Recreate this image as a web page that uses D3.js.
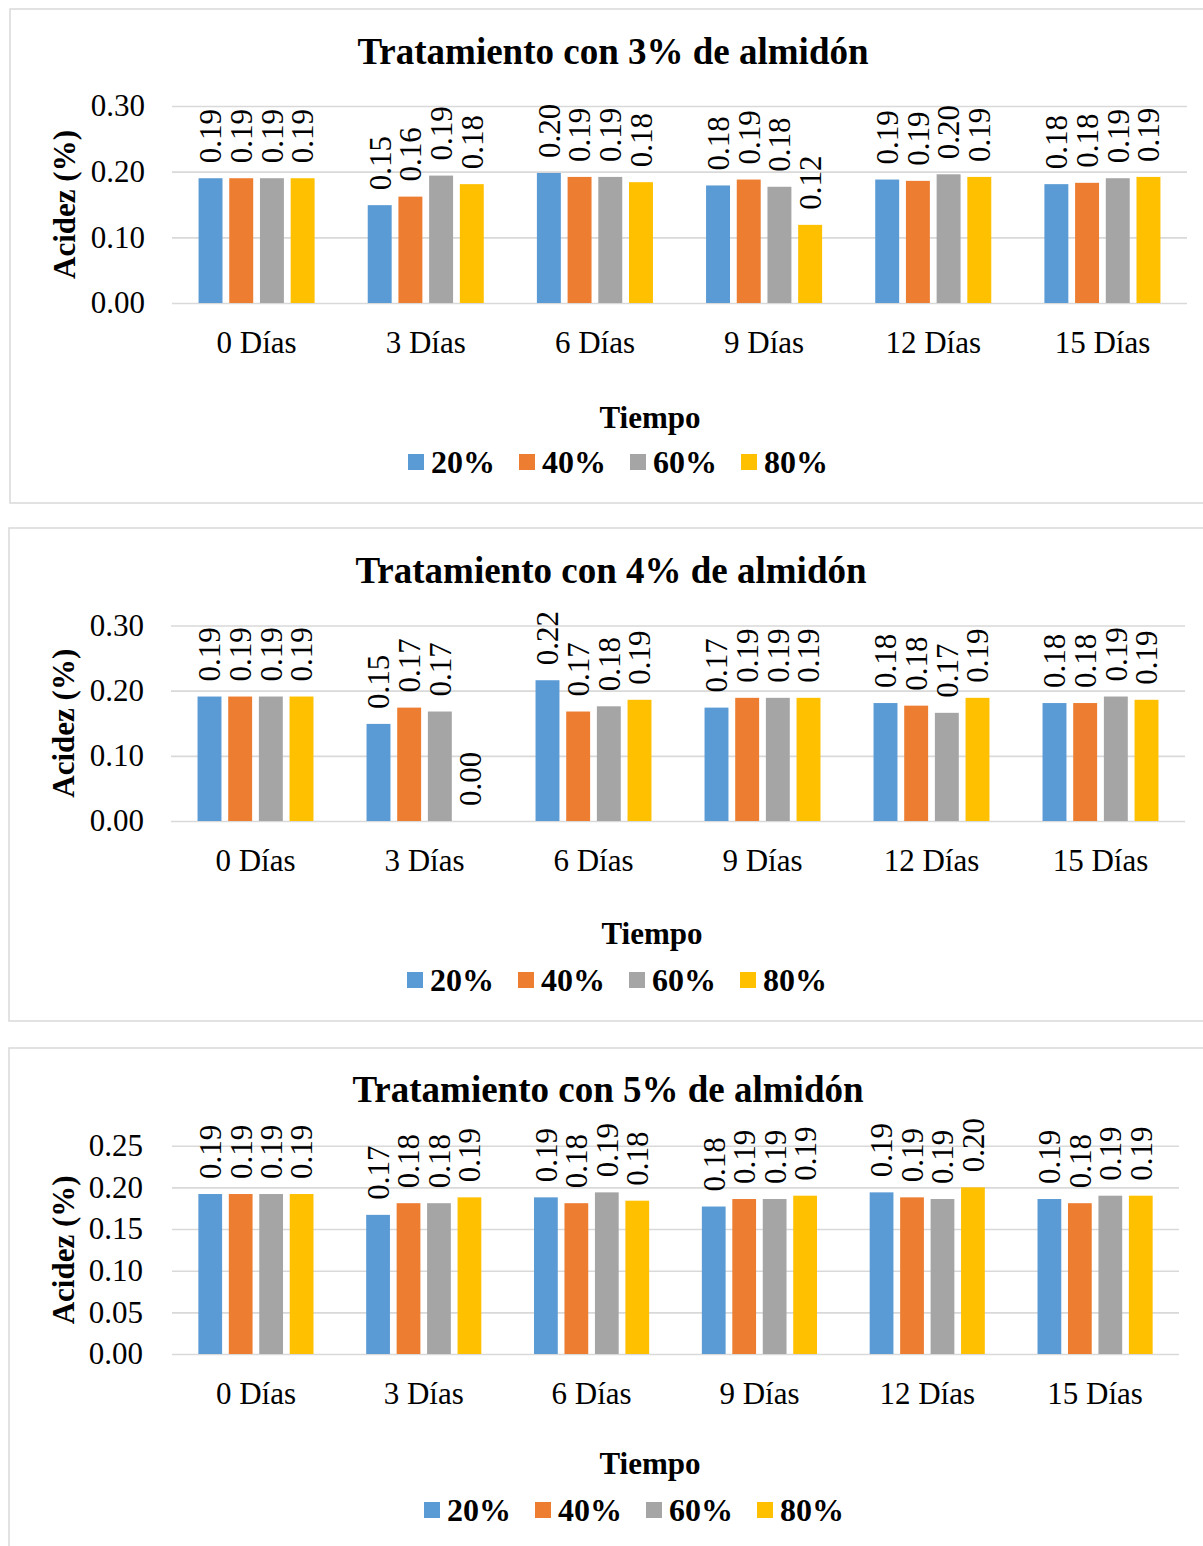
<!DOCTYPE html>
<html lang="es">
<head>
<meta charset="utf-8">
<title>Acidez (%) – tratamientos con almidón</title>
<script src="https://cdn.jsdelivr.net/npm/d3@7"></script>
<style>
  html, body { margin: 0; padding: 0; background: #ffffff; }
  svg { display: block; }
</style>
</head>
<body>
<svg id="chart" width="1203" height="1546"></svg>
<script>
// Categories (time) and series (concentration)
const categories = ["0 Días", "3 Días", "6 Días", "9 Días", "12 Días", "15 Días"];
const seriesNames = ["20%", "40%", "60%", "80%"];

// Acidity (%) per series, one value per day — 3% starch
const starch3_20 = [0.190, 0.149, 0.198, 0.179, 0.188, 0.181];
const starch3_40 = [0.190, 0.162, 0.192, 0.188, 0.186, 0.183];
const starch3_60 = [0.190, 0.194, 0.192, 0.177, 0.196, 0.190];
const starch3_80 = [0.190, 0.181, 0.184, 0.119, 0.192, 0.192];

// 4% starch
const starch4_20 = [0.191, 0.149, 0.216, 0.174, 0.181, 0.181];
const starch4_40 = [0.191, 0.174, 0.168, 0.189, 0.177, 0.181];
const starch4_60 = [0.191, 0.168, 0.176, 0.189, 0.166, 0.191];
const starch4_80 = [0.191, 0.000, 0.186, 0.189, 0.189, 0.186];

// 5% starch
const starch5_20 = [0.192, 0.167, 0.188, 0.177, 0.194, 0.186];
const starch5_40 = [0.192, 0.181, 0.181, 0.186, 0.188, 0.181];
const starch5_60 = [0.192, 0.181, 0.194, 0.186, 0.186, 0.190];
const starch5_80 = [0.192, 0.188, 0.184, 0.190, 0.200, 0.190];

// Axis ticks
const ticks3 = [0.00, 0.10, 0.20, 0.30];
const ticks4 = [0.00, 0.10, 0.20, 0.30];
const ticks5 = [0.00, 0.05, 0.10, 0.15, 0.20, 0.25];

const colors = ["#5B9BD5", "#ED7D31", "#A5A5A5", "#FFC000"];
const serif = "'Liberation Serif', 'Times New Roman', Times, serif";
const gridColor = "#D9D9D9";

const svg = d3.select("#chart");
svg.append("rect").attr("width", 1203).attr("height", 1546).attr("fill", "#ffffff");

function drawPanel(cfg) {
  const g = svg.append("g");

  // Frame
  g.append("rect")
    .attr("x", cfg.box[0]).attr("y", cfg.box[1])
    .attr("width", cfg.box[2]).attr("height", cfg.box[3])
    .attr("fill", "#ffffff")
    .attr("stroke", gridColor).attr("stroke-width", 1.5);

  const series = seriesNames.map((name, i) => ({ name, values: cfg.values[i], color: colors[i] }));

  const x0 = d3.scaleBand().domain(categories)
    .range([cfg.left, cfg.right]).paddingInner(0.314).paddingOuter(0.157);
  const x1 = d3.scaleBand().domain(seriesNames)
    .range([0, x0.bandwidth()]).paddingInner(0.22);
  const y = d3.scaleLinear().domain([0, d3.max(cfg.ticks)]).range([cfg.bottom, cfg.top]);

  // Y axis with gridlines
  const yAxis = g.append("g")
    .attr("transform", `translate(${cfg.left},0)`)
    .call(d3.axisLeft(y).tickValues(cfg.ticks).tickFormat(d3.format(".2f"))
      .tickSize(-(cfg.right - cfg.left)).tickPadding(cfg.tickPad));
  yAxis.select(".domain").remove();
  yAxis.selectAll(".tick line").attr("stroke", gridColor).attr("stroke-width", 1.6);
  yAxis.selectAll(".tick text")
    .attr("font-family", serif).attr("font-size", 31).attr("fill", "#000");

  // X axis labels
  const xAxis = g.append("g")
    .attr("transform", `translate(0,${cfg.bottom})`)
    .call(d3.axisBottom(x0).tickSize(0).tickPadding(28));
  xAxis.select(".domain").remove();
  xAxis.selectAll(".tick text")
    .attr("font-family", serif).attr("font-size", 31).attr("fill", "#000");

  // Bars
  const groups = g.append("g").selectAll("g")
    .data(series).join("g").attr("fill", d => d.color);

  groups.selectAll("rect")
    .data(d => d.values.map((v, i) => ({ cat: categories[i], name: d.name, v })))
    .join("rect")
    .attr("x", d => x0(d.cat) + x1(d.name))
    .attr("y", d => y(d.v))
    .attr("width", x1.bandwidth())
    .attr("height", d => y(0) - y(d.v));

  // Value labels (rotated)
  groups.selectAll("text")
    .data(d => d.values.map((v, i) => ({ cat: categories[i], name: d.name, v })))
    .join("text")
    .attr("transform", d => {
      const cx = x0(d.cat) + x1(d.name) + x1.bandwidth() / 2;
      return `translate(${cx},${y(d.v) - 15}) rotate(-90)`;
    })
    .attr("dy", "0.35em")
    .attr("text-anchor", "start")
    .attr("font-family", serif).attr("font-size", 31).attr("fill", "#000")
    .text(d => d.v.toFixed(2));

  // Title
  g.append("text")
    .attr("x", cfg.titleX).attr("y", cfg.titleY)
    .attr("text-anchor", "middle")
    .attr("font-family", serif).attr("font-size", 37).attr("font-weight", "bold")
    .text(cfg.title);

  // Y axis title
  g.append("text")
    .attr("transform", `translate(${cfg.yTitleX},${(cfg.top + cfg.bottom) / 2}) rotate(-90)`)
    .attr("dy", "0.35em")
    .attr("text-anchor", "middle")
    .attr("font-family", serif).attr("font-size", 31).attr("font-weight", "bold")
    .text("Acidez (%)");

  // X axis title
  g.append("text")
    .attr("x", cfg.xTitleX).attr("y", cfg.xTitleY)
    .attr("text-anchor", "middle")
    .attr("font-family", serif).attr("font-size", 31).attr("font-weight", "bold")
    .text("Tiempo");

  // Legend
  const legend = g.append("g").selectAll("g")
    .data(series).join("g")
    .attr("transform", (d, i) => `translate(${cfg.legendX + i * 111},${cfg.legendY})`);
  legend.append("rect")
    .attr("x", 0).attr("y", -8).attr("width", 16).attr("height", 16)
    .attr("fill", d => d.color);
  legend.append("text")
    .attr("x", 23).attr("dy", "0.35em")
    .attr("font-family", serif).attr("font-size", 32).attr("font-weight", "bold")
    .text(d => d.name);
}

drawPanel({
  box: [10, 9, 1210, 494],
  title: "Tratamiento con 3% de almidón",
  values: [starch3_20, starch3_40, starch3_60, starch3_80],
  ticks: ticks3,
  left: 172, right: 1187, top: 106, bottom: 303, tickPad: 27,
  titleX: 613, titleY: 64, yTitleX: 64,
  xTitleX: 650, xTitleY: 428,
  legendX: 408, legendY: 462
});

drawPanel({
  box: [9, 528, 1210, 493],
  title: "Tratamiento con 4% de almidón",
  values: [starch4_20, starch4_40, starch4_60, starch4_80],
  ticks: ticks4,
  left: 171, right: 1185, top: 625.5, bottom: 821, tickPad: 27,
  titleX: 611, titleY: 583, yTitleX: 63,
  xTitleX: 652, xTitleY: 944,
  legendX: 407, legendY: 980
});

drawPanel({
  box: [9, 1048, 1210, 520],
  title: "Tratamiento con 5% de almidón",
  values: [starch5_20, starch5_40, starch5_60, starch5_80],
  ticks: ticks5,
  left: 172, right: 1179, top: 1145.7, bottom: 1354, tickPad: 29,
  titleX: 608, titleY: 1102, yTitleX: 63,
  xTitleX: 650, xTitleY: 1474,
  legendX: 424, legendY: 1510
});
</script>
</body>
</html>
